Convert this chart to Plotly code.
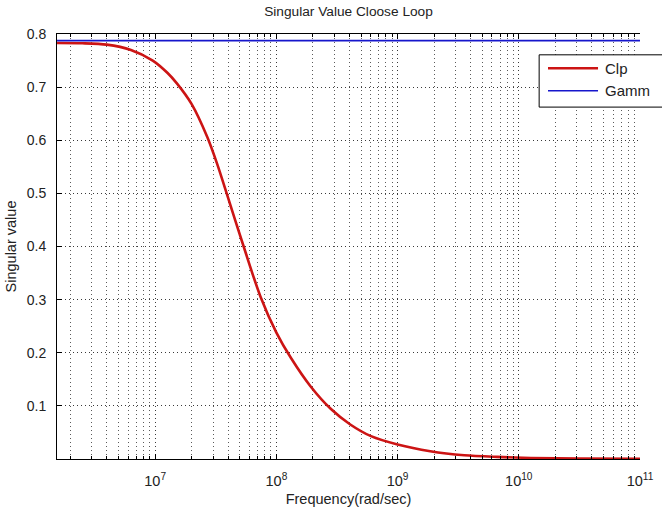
import plotly.graph_objects as go

# Closed-loop singular value (read at sample frequencies, rad/sec)
freq = [1.55e6, 2.51e6, 3.98e6, 6.31e6, 9.55e6, 1.26e7, 1.51e7, 2.0e7, 2.69e7,
        3.24e7, 3.89e7, 5.37e7, 7.41e7, 1.0e8, 1.32e8, 1.91e8, 2.82e8,
        4.07e8, 6.03e8, 1.0e9, 1.86e9, 3.55e9, 6.61e9, 1.26e10, 3.16e10, 1.0e11]
clp = [0.783, 0.7825, 0.780, 0.770, 0.750, 0.727, 0.707, 0.668, 0.606,
       0.556, 0.500, 0.400, 0.305, 0.238, 0.190, 0.137, 0.094,
       0.065, 0.043, 0.0273, 0.0147, 0.0071, 0.0040, 0.0020, 0.0010, 0.0004]

# Gamma level (constant)
gamm_freq = [1.55e6, 1.0e11]
gamm = [0.7875, 0.7875]

x_ticks = [1e7, 1e8, 1e9, 1e10, 1e11]
x_ticktext = ["10<sup>7</sup>", "10<sup>8</sup>", "10<sup>9</sup>",
              "10<sup>10</sup>", "10<sup>11</sup>"]
y_ticks = [0.1, 0.2, 0.3, 0.4, 0.5, 0.6, 0.7, 0.8]

series_names = ["Clp", "Gamm"]
series_colors = ["#cc1414", "#1616cc"]
series_widths = [2.6, 1.6]

font = "Liberation Sans, Arial, sans-serif"
txt = "#222"
grid_dash = "1px,3px"

fig = go.Figure()
fig.add_trace(go.Scatter(x=freq, y=clp, name=series_names[0], mode="lines",
                         line=dict(color=series_colors[0], width=series_widths[0],
                                   shape="spline", smoothing=0.8)))
fig.add_trace(go.Scatter(x=gamm_freq, y=gamm, name=series_names[1], mode="lines",
                         line=dict(color=series_colors[1], width=series_widths[1])))

fig.update_layout(
    width=662, height=512,
    paper_bgcolor="white", plot_bgcolor="white",
    margin=dict(l=57, r=22, t=34, b=53, autoexpand=False),
    font=dict(family=font, size=13, color=txt),
    title=dict(text="Singular Value Cloose Loop", x=0.5, xref="paper", xanchor="center",
               y=0.979, yanchor="middle", font=dict(size=13.7, color=txt)),
    showlegend=False,
)

# Boxed legend in the upper right corner
box_x0, box_x1, box_y0, box_y1 = 0.827, 1.05, 0.828, 0.951
fig.add_shape(type="rect", xref="paper", yref="paper",
              x0=box_x0, x1=box_x1, y0=box_y0, y1=box_y1,
              line=dict(color="black", width=1), fillcolor="white", layer="above")
for name, color, width, yy in zip(series_names, series_colors, series_widths,
                                  [0.9193, 0.8666]):
    fig.add_shape(type="line", xref="paper", yref="paper",
                  x0=0.8422, x1=0.928, y0=yy, y1=yy,
                  line=dict(color=color, width=width), layer="above")
    fig.add_annotation(text=name, xref="paper", yref="paper", x=0.9365, y=yy,
                       xanchor="left", yanchor="middle", showarrow=False,
                       font=dict(size=15, color=txt))

fig.update_xaxes(
    type="log", range=[6.19, 11.0],
    tickvals=x_ticks, ticktext=x_ticktext, automargin=False,
    showline=True, linecolor="black", linewidth=1, mirror="ticks",
    ticks="inside", ticklen=5, tickcolor="black",
    showgrid=True, gridcolor="#3a3a3a", gridwidth=1, griddash=grid_dash,
    minor=dict(dtick="D1", ticks="inside", ticklen=3, tickcolor="black",
               showgrid=True, gridcolor="#5a5a5a", gridwidth=1, griddash=grid_dash),
    tickfont=dict(size=14.5, color=txt), ticklabelstandoff=9,
    title=dict(text="Frequency(rad/sec)", font=dict(size=14.5, color=txt), standoff=5),
    zeroline=False,
)
fig.update_yaxes(
    range=[0, 0.8], tickvals=y_ticks, tickformat=".1f", automargin=False,
    showline=True, linecolor="black", linewidth=1, mirror=False,
    ticks="inside", ticklen=5, tickcolor="black",
    showgrid=True, gridcolor="#3a3a3a", gridwidth=1, griddash=grid_dash,
    tickfont=dict(size=14, color=txt), ticklabelstandoff=7,
    title=dict(text="Singular value", font=dict(size=14.5, color=txt), standoff=6),
    zeroline=False,
)

fig.write_html("out.html")
